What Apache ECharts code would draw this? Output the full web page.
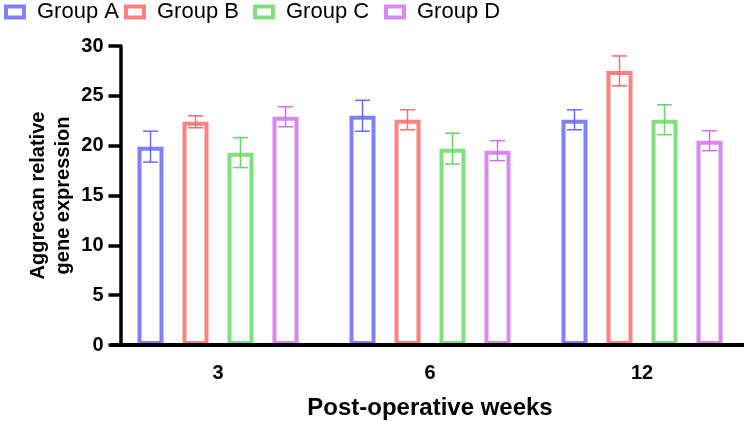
<!DOCTYPE html>
<html lang="en">
<head>
	<meta charset="UTF-8">
	<title>Aggrecan relative gene expression</title>
	<style type="text/css">
		html, body{ margin: 0; padding: 0; background: #fff; }
		#box{ width: 744px; height: 421px; }
	</style>
</head>
<body>
	<div id="box"></div>
	<script type="text/javascript" src="https://cdn.jsdelivr.net/npm/echarts@6/dist/echarts.min.js"></script>
	<script type="text/javascript">
		// data
		var weeks = ['3', '6', '12'];
		var groups = ['Group A', 'Group B', 'Group C', 'Group D'];
		var groupA = [19.9, 23.0, 22.6];
		var groupB = [22.4, 22.6, 27.5];
		var groupC = [19.3, 19.7, 22.6];
		var groupD = [22.9, 19.5, 20.5];
		var errA = [1.55, 1.55, 1.0];
		var errB = [0.6, 1.0, 1.5];
		var errC = [1.5, 1.55, 1.5];
		var errD = [1.0, 1.0, 1.0];
		var yTicks = [0, 5, 10, 15, 20, 25, 30];

		var means = [groupA, groupB, groupC, groupD];
		var errs = [errA, errB, errC, errD];
		var barColors = ['#8080ff', '#ff8080', '#80e080', '#d987f2'];
		var errColors = ['#6a6aff', '#ff6a6a', '#6ad66a', '#cf6eee'];
		var legendLeft = [4, 124, 253, 384];

		var barW = 26, pitch = 45;
		var font = 'Liberation Sans, Arial, sans-serif';

		var myChart = echarts.init(document.getElementById('box'));

		var series = [];
		var legends = [];
		groups.forEach(function (name, i){
			series.push({
				name: name,
				type: 'bar',
				barWidth: barW,
				barGap: ((pitch - barW) / barW * 100) + '%',
				data: means[i],
				itemStyle: {
					color: '#fff',
					borderColor: barColors[i],
					borderWidth: 4
				},
				emphasis: { disabled: true }
			});
			var errData = means[i].map(function (v, k){
				return [k, v, errs[i][k]];
			});
			series.push({
				name: name + ' err',
				type: 'custom',
				z: 4,
				data: errData,
				renderItem: function (params, api){
					var k = api.value(0), m = api.value(1), e = api.value(2);
					var hi = api.coord([k, m + e]);
					var lo = api.coord([k, m - e]);
					var x = hi[0] + (i - 1.5) * pitch;
					var st = { stroke: errColors[i], lineWidth: 1.5 };
					return {
						type: 'group',
						children: [
							{ type: 'line', shape: { x1: x, y1: hi[1], x2: x, y2: lo[1] }, style: st },
							{ type: 'line', shape: { x1: x - 7.5, y1: hi[1], x2: x + 7.5, y2: hi[1] }, style: st },
							{ type: 'line', shape: { x1: x - 7.5, y1: lo[1], x2: x + 7.5, y2: lo[1] }, style: st }
						]
					};
				}
			});
			legends.push({
				left: legendLeft[i],
				top: 1,
				padding: 0,
				selectedMode: false,
				icon: 'rect',
				itemWidth: 18,
				itemHeight: 11,
				data: [{
					name: name,
					itemStyle: { color: '#fff', borderColor: barColors[i], borderWidth: 4 }
				}],
				textStyle: {
					fontFamily: font,
					fontSize: 22,
					color: '#000',
					padding: [0, 0, 0, 8]
				}
			});
		});

		var option = {
			animation: false,
			legend: legends,
			grid: {
				left: 112,
				width: 636,
				top: 46,
				bottom: 76,
				outerBoundsMode: 'none'
			},
			xAxis: {
				type: 'category',
				data: weeks,
				z: 10,
				name: 'Post-operative weeks',
				nameLocation: 'middle',
				nameGap: 51,
				nameMoveOverlap: false,
				nameTextStyle: { fontFamily: font, fontSize: 24, fontWeight: 'bold', color: '#000' },
				axisLine: { lineStyle: { color: '#000', width: 4 } },
				axisTick: { alignWithLabel: true, length: 12, lineStyle: { color: '#000', width: 3.5 } },
				axisLabel: { margin: 18, fontFamily: font, fontSize: 20, fontWeight: 'bold', color: '#000' }
			},
			yAxis: {
				type: 'value',
				min: yTicks[0],
				max: yTicks[yTicks.length - 1],
				interval: yTicks[1] - yTicks[0],
				offset: -8.5,
				z: 10,
				name: 'Aggrecan relative\ngene expression',
				nameLocation: 'middle',
				nameGap: 45,
				nameMoveOverlap: false,
				nameTextStyle: { fontFamily: font, fontSize: 20, fontWeight: 'bold', color: '#000', lineHeight: 25 },
				splitLine: { show: false },
				axisLine: { show: true, lineStyle: { color: '#000', width: 3.5 } },
				axisTick: { show: true, length: 12, lineStyle: { color: '#000', width: 3.5 } },
				axisLabel: { margin: 17, fontFamily: font, fontSize: 20, fontWeight: 'bold', color: '#000' }
			},
			series: series
		};
		myChart.setOption(option);
	</script>
</body>
</html>
